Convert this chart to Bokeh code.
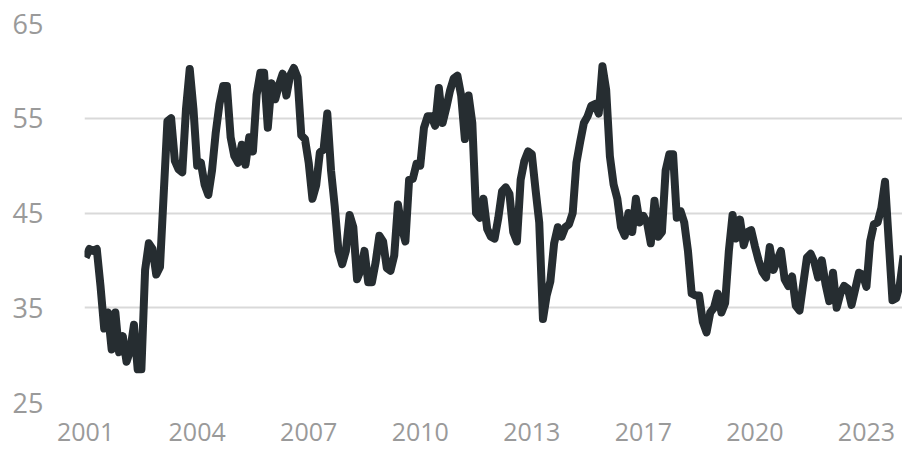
from bokeh.plotting import figure
from bokeh.models import Range1d, FixedTicker
from bokeh.embed import file_html
from bokeh.resources import INLINE

# Series values (one per sample, evenly spaced through time)
values = [
    40.3, 41.2, 41.0, 41.2, 37.3, 32.8, 34.5, 30.6, 34.5, 30.3,
    32.0, 29.3, 30.5, 33.2, 28.5, 28.5, 39.0, 41.8, 41.2, 38.5,
    39.3, 47.0, 54.7, 55.0, 50.5, 49.6, 49.3, 56.0, 60.2, 56.0,
    50.0, 50.3, 48.0, 46.9, 49.5, 53.5, 56.5, 58.4, 58.4, 53.0,
    51.0, 50.3, 52.2, 50.1, 53.0, 51.5, 57.5, 59.8, 59.8, 54.0,
    58.7, 57.0, 58.5, 59.7, 57.4, 59.5, 60.3, 59.3, 53.2, 52.8,
    50.3, 46.5, 47.9, 51.4, 51.7, 55.5, 49.5, 45.7, 41.0, 39.6,
    41.0, 44.8, 43.5, 38.0, 39.0, 41.0, 37.7, 37.7, 39.8, 42.6,
    42.0, 39.2, 38.9, 40.5, 45.9, 43.5, 42.0, 48.5, 48.6, 50.2,
    50.0, 54.0, 55.2, 55.2, 54.2, 58.2, 54.5, 56.1, 57.9, 59.2,
    59.5, 57.4, 52.8, 57.4, 54.5, 45.0, 44.5, 46.5, 43.3, 42.5,
    42.3, 44.5, 47.3, 47.7, 47.0, 43.0, 42.0, 48.5, 50.5, 51.5,
    51.2, 47.5, 44.0, 33.8, 36.3, 37.8, 41.8, 43.5, 42.5, 43.5,
    43.8, 45.0, 50.3, 52.5, 54.5, 55.2, 56.3, 56.5, 55.5, 60.5,
    58.0, 51.0, 48.0, 46.5, 43.5, 42.6, 45.0, 43.0, 46.5, 44.0,
    44.7, 44.0, 41.8, 46.3, 42.5, 43.0, 49.5, 51.2, 51.2, 44.5,
    45.2, 44.0, 41.0, 36.5, 36.3, 36.3, 33.5, 32.4, 34.5, 35.0,
    36.5, 34.5, 35.5, 41.0, 44.8, 42.3, 44.3, 41.6, 43.0, 43.2,
    41.5, 40.0, 38.8, 38.2, 41.4, 39.0, 40.0, 41.0, 38.0, 37.3,
    38.3, 35.2, 34.7, 37.5, 40.3, 40.7, 39.8, 38.2, 40.0, 37.5,
    35.7, 38.7, 35.0, 36.5, 37.3, 37.0, 35.3, 37.0, 38.7, 38.5,
    37.2, 42.0, 43.8, 44.0, 45.5, 48.3, 42.0, 35.8, 36.0, 37.5,
    40.5,
]
year_labels = ["2001", "2004", "2007", "2010", "2013", "2017", "2020", "2023"]
y_ticks = [25, 35, 45, 55, 65]

samples_per_label = 30
x = list(range(len(values)))
x_ticks = [i * samples_per_label for i in range(len(year_labels))]

p = figure(
    width=902, height=456,
    output_backend="svg", toolbar_location=None,
    x_range=Range1d(-0.3, 219.7), y_range=Range1d(25, 65),
    min_border_left=84, min_border_right=0, min_border_top=23, min_border_bottom=54,
)
p.outline_line_color = None
p.background_fill_color = "white"
p.border_fill_color = "white"

p.line(x, values, line_color="#262d31", line_width=8, line_join="round")

grey = "#9a9a9a"
font = "Open Sans"

p.xaxis.ticker = FixedTicker(ticks=x_ticks)
p.xaxis.major_label_overrides = {t: l for t, l in zip(x_ticks, year_labels)}
p.yaxis.ticker = FixedTicker(ticks=y_ticks)

for ax in (p.xaxis, p.yaxis):
    ax.axis_line_color = None
    ax.major_tick_line_color = None
    ax.minor_tick_line_color = None
    ax.major_label_text_color = grey
    ax.major_label_text_font = font

p.yaxis.major_label_text_font_size = "27px"
p.xaxis.major_label_text_font_size = "25px"
p.yaxis.major_label_standoff = 35
p.xaxis.major_label_standoff = 14

p.xgrid.grid_line_color = None
p.ygrid.grid_line_color = "#d9d9d9"
p.ygrid.grid_line_width = 2

open("out.html", "w").write(file_html(p, INLINE))
